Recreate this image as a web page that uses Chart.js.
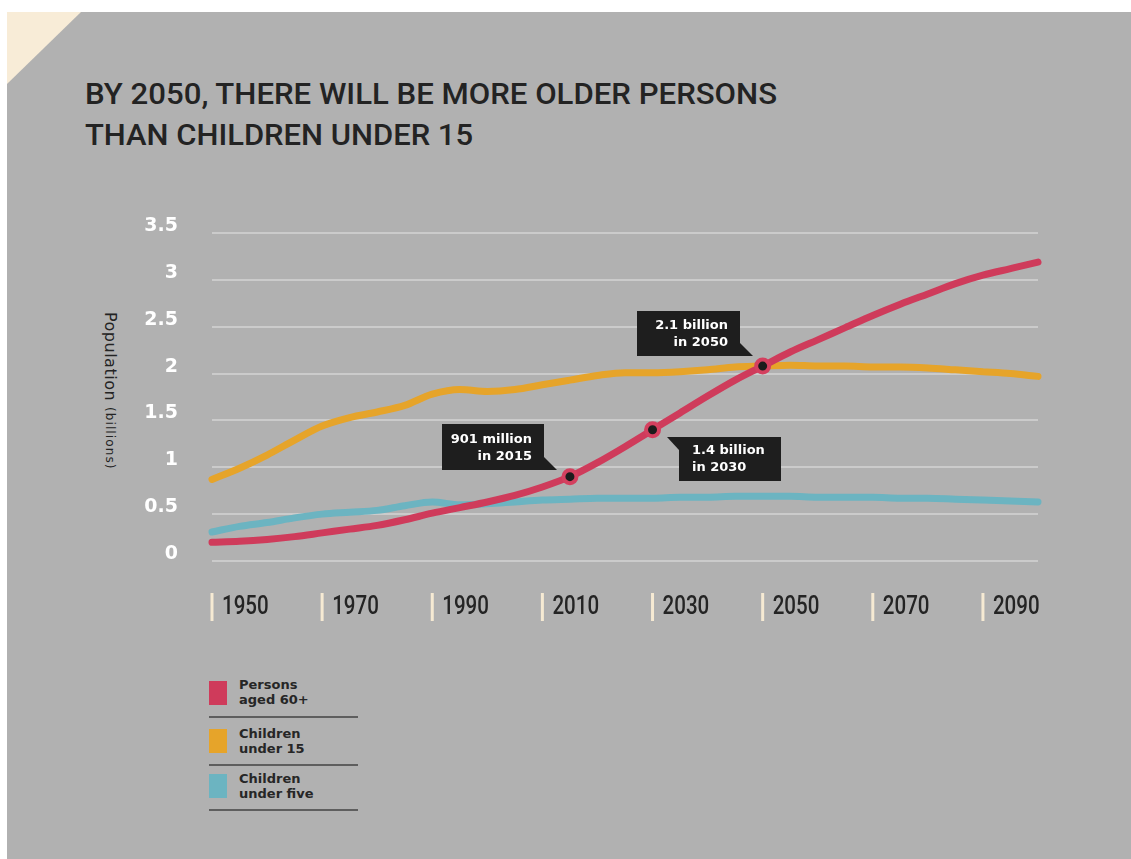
<!DOCTYPE html>
<html lang="en">
<head>
<meta charset="UTF-8">
<title>By 2050, there will be more older persons than children under 15</title>
<script src="https://cdn.jsdelivr.net/npm/chart.js"></script>
<style>
  html, body { margin: 0; padding: 0; background: #fff; }
  body { width: 1131px; height: 859px; position: relative; overflow: hidden; font-family: "DejaVu Sans", sans-serif; }
  .panel { position: absolute; left: 7px; top: 12px; right: 0; bottom: 0; background: #b1b1b1; }
  .corner { position: absolute; left: 7px; top: 12px; width: 74px; height: 72px; background: #f8ecd7;
            clip-path: polygon(0 0, 100% 0, 0 100%); }
  .title { position: absolute; left: 85px; top: 74px; font-family: Roboto, sans-serif; font-size: 29px; font-weight: 500;
           line-height: 41px; color: #232323; white-space: nowrap; }
  .title span { display: inline-block; transform-origin: 0 50%; }
  .ytitle { position: absolute; left: 102px; top: 312px; writing-mode: vertical-rl; line-height: 16px;
            color: #232323; white-space: nowrap; }
  .ytitle .big { font-size: 16px; letter-spacing: 0.5px; }
  .ytitle .small { font-size: 12px; letter-spacing: 1.1px; margin-top: 6px; }
  .legend .sw { position: absolute; left: 209px; width: 18px; height: 24px; }
  .legend .txt { position: absolute; left: 239px; font-weight: bold; font-size: 13px; line-height: 15px; color: #262626; }
  .legend .sep { position: absolute; left: 209px; width: 149px; height: 2px; background: #5e5e5e; }
  canvas { position: absolute; left: 0; top: 0; }
</style>
</head>
<body>
  <div class="panel"></div>
  <div class="corner"></div>
  <div class="title">
    <span id="t1">BY 2050, THERE WILL BE MORE OLDER PERSONS</span><br>
    <span id="t2">THAN CHILDREN UNDER 15</span>
  </div>
  <div class="ytitle"><span class="big">Population</span><span class="small">(billions)</span></div>

  <div class="legend">
    <div class="sw" style="top:681px;background:#cf3b5b;"></div>
    <div class="txt" style="top:677px;">Persons<br>aged 60+</div>
    <div class="sep" style="top:716px;"></div>
    <div class="sw" style="top:729px;background:#e6a42a;"></div>
    <div class="txt" style="top:726px;">Children<br>under 15</div>
    <div class="sep" style="top:764px;"></div>
    <div class="sw" style="top:774px;background:#6cb4c1;"></div>
    <div class="txt" style="top:771px;">Children<br>under five</div>
    <div class="sep" style="top:809px;"></div>
  </div>

  <canvas id="chart" width="1131" height="859"></canvas>

  <script>
    // data, billions
    const years = [1950, 1955, 1960, 1965, 1970, 1975, 1980, 1985, 1990, 1995, 2000, 2005, 2010, 2015, 2020,
                   2025, 2030, 2035, 2040, 2045, 2050, 2055, 2060, 2065, 2070, 2075, 2080, 2085, 2090, 2095, 2100];
    const aged60 = [0.20, 0.21, 0.23, 0.26, 0.30, 0.34, 0.38, 0.44, 0.51, 0.57, 0.63, 0.70, 0.79, 0.90, 1.05,
                    1.22, 1.40, 1.58, 1.76, 1.93, 2.08, 2.23, 2.36, 2.49, 2.62, 2.74, 2.85, 2.96, 3.05, 3.12, 3.19];
    const under15 = [0.87, 0.99, 1.13, 1.29, 1.44, 1.53, 1.59, 1.66, 1.78, 1.83, 1.81, 1.83, 1.88, 1.93, 1.98,
                     2.01, 2.01, 2.02, 2.04, 2.07, 2.08, 2.09, 2.08, 2.08, 2.07, 2.07, 2.06, 2.04, 2.02, 2.00, 1.97];
    const under5 = [0.31, 0.37, 0.41, 0.46, 0.50, 0.52, 0.54, 0.59, 0.63, 0.60, 0.61, 0.63, 0.65, 0.66, 0.67,
                    0.67, 0.67, 0.68, 0.68, 0.69, 0.69, 0.69, 0.68, 0.68, 0.68, 0.67, 0.67, 0.66, 0.65, 0.64, 0.63];
    const yTicks = [0, 0.5, 1, 1.5, 2, 2.5, 3, 3.5];
    const xTicks = [1950, 1970, 1990, 2010, 2030, 2050, 2070, 2090];
    const calloutYears = [2015, 2030, 2050];
    const calloutText = [['901 million', 'in 2015'], ['1.4 billion', 'in 2030'], ['2.1 billion', 'in 2050']];

    // squeeze the title to the width of the condensed original
    function fitTitle() {
      [['t1', 692], ['t2', 388]].forEach(([id, w]) => {
        const el = document.getElementById(id);
        el.style.transform = 'scaleX(' + (w / el.getBoundingClientRect().width) + ')';
      });
    }
    fitTitle();

    const toXY = vals => years.map((y, i) => ({ x: y, y: vals[i] }));

    // box placement relative to the marker, in px
    const boxes = [
      { dx: -128, dy: -53, w: 102, h: 46, align: 'right', tx: 90, ty: [16, 33], ptr: 'br' },
      { dx: 26, dy: 7, w: 102, h: 44, align: 'left', tx: 13, ty: [14, 31], ptr: 'tl' },
      { dx: -126, dy: -55, w: 103, h: 45, align: 'right', tx: 91, ty: [15, 32], ptr: 'br' }
    ];

    const extras = {
      id: 'extras',
      afterDraw(chart) {
        const { ctx, scales: { x, y } } = chart;
        ctx.save();
        // x axis: beige bars + condensed year labels
        xTicks.forEach(v => {
          const px = x.getPixelForValue(v);
          ctx.fillStyle = '#f6ead3';
          ctx.fillRect(px - 1.5, 593, 3, 28);
          ctx.save();
          ctx.translate(px + 10, 614);
          ctx.scale(0.79, 1);
          ctx.fillStyle = '#242424';
          ctx.font = '500 26px Roboto';
          ctx.textBaseline = 'alphabetic';
          ctx.fillText(String(v), 0, 0);
          ctx.restore();
        });
        // callout boxes
        calloutYears.forEach((yr, i) => {
          const b = boxes[i];
          const mx = x.getPixelForValue(yr);
          const my = y.getPixelForValue(aged60[years.indexOf(yr)]);
          const bx = Math.round(mx + b.dx), by = Math.round(my + b.dy);
          ctx.fillStyle = '#1e1e1e';
          ctx.fillRect(bx, by, b.w, b.h);
          ctx.beginPath();
          if (b.ptr === 'br') {
            ctx.moveTo(bx + b.w, by + b.h - 13);
            ctx.lineTo(bx + b.w + 13, by + b.h);
            ctx.lineTo(bx + b.w, by + b.h);
          } else {
            ctx.moveTo(bx - 12, by);
            ctx.lineTo(bx, by);
            ctx.lineTo(bx, by + 13);
          }
          ctx.closePath();
          ctx.fill();
          ctx.fillStyle = '#ffffff';
          ctx.font = 'bold 13px "DejaVu Sans"';
          ctx.textAlign = b.align;
          ctx.textBaseline = 'middle';
          calloutText[i].forEach((t, j) => ctx.fillText(t, bx + b.tx, by + b.ty[j]));
        });
        ctx.restore();
      }
    };

    const lineStyle = {
      borderWidth: 7,
      pointRadius: 0,
      pointHoverRadius: 0,
      cubicInterpolationMode: 'monotone',
      borderCapStyle: 'round',
      borderJoinStyle: 'round',
      fill: false,
      clip: false
    };

    new Chart(document.getElementById('chart'), {
      type: 'line',
      data: {
        datasets: [
          {
            label: 'markers',
            data: calloutYears.map(yr => ({ x: yr, y: aged60[years.indexOf(yr)] })),
            showLine: false,
            pointRadius: 6.5,
            pointHoverRadius: 6.5,
            pointBackgroundColor: '#1c1c1c',
            pointBorderColor: '#d4405f',
            pointBorderWidth: 4,
            clip: false
          },
          Object.assign({ label: 'Persons aged 60+', data: toXY(aged60), borderColor: '#cf3b5b' }, lineStyle),
          Object.assign({ label: 'Children under 15', data: toXY(under15), borderColor: '#e6a42a' }, lineStyle),
          Object.assign({ label: 'Children under five', data: toXY(under5), borderColor: '#6cb4c1' }, lineStyle)
        ]
      },
      options: {
        responsive: false,
        animation: false,
        devicePixelRatio: 1,
        layout: { padding: { left: 0, top: 233, right: 93, bottom: 298 } },
        plugins: { legend: { display: false }, tooltip: { enabled: false } },
        scales: {
          x: {
            type: 'linear',
            min: 1950,
            max: 2100,
            grid: { display: false },
            border: { display: false },
            ticks: { display: false },
            afterFit: s => { s.height = 0; }
          },
          y: {
            min: 0,
            max: 3.5,
            afterFit: s => { s.width = 212; },
            afterBuildTicks: s => { s.ticks = yTicks.map(v => ({ value: v })); },
            grid: { color: '#cbcbcb', lineWidth: 2, drawTicks: false },
            border: { display: false },
            ticks: {
              padding: 34,
              labelOffset: -7,
              color: '#ffffff',
              font: { family: 'DejaVu Sans', weight: 'bold', size: 19 },
              callback: v => String(v)
            }
          }
        }
      },
      plugins: [extras]
    });
  </script>
</body>
</html>
